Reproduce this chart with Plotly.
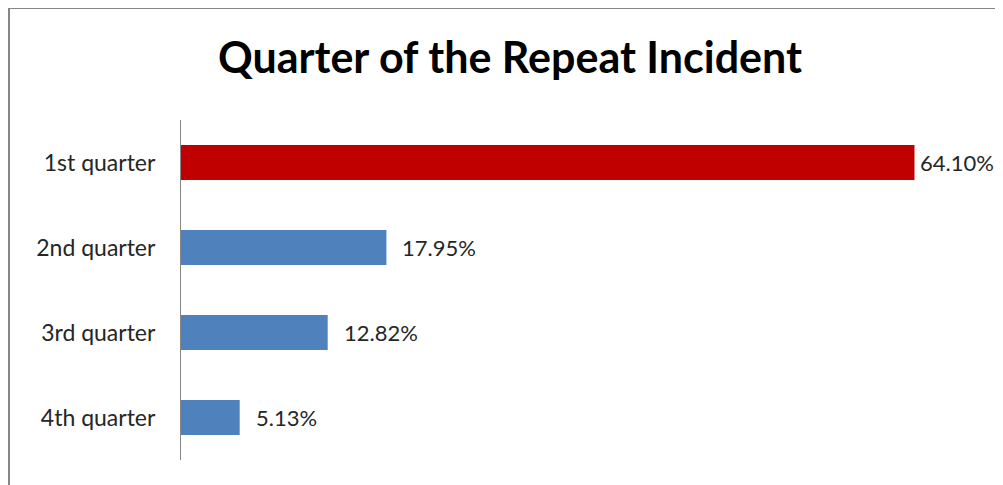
import plotly.graph_objects as go

categories = ["1st quarter", "2nd quarter", "3rd quarter", "4th quarter"]
values = [64.10, 17.95, 12.82, 5.13]
labels = ["64.10%", "17.95%", "12.82%", "5.13%"]
colors = ["#C00000", "#4F81BD", "#4F81BD", "#4F81BD"]
label_shift = [4, 14, 14, 14]

W, H = 1003, 485
OFF = 8  # page body margin
L, R, T, B = 181 - OFF, 982 - OFF, 120 - OFF, 460 - OFF

fig = go.Figure(go.Bar(
    x=values, y=categories, orientation="h",
    marker=dict(color=colors, line=dict(width=0)),
    width=0.41,
    cliponaxis=False,
))

for v, c, t, s in zip(values, categories, labels, label_shift):
    fig.add_annotation(x=v, y=c, text=t, showarrow=False, xanchor="left",
                       yanchor="middle", xshift=s,
                       font=dict(family="Lato", size=22, color="#262626"))

def px_x(x):
    return (x - OFF - L) / (R - L)

def px_y(y):
    return (B - (y - OFF)) / (B - T)

fig.update_layout(
    width=W, height=H,
    margin=dict(l=L, r=W - R, t=T, b=H - B, pad=0),
    paper_bgcolor="white", plot_bgcolor="white",
    showlegend=False,
    title=dict(text="<b>Quarter of the Repeat Incident</b>",
               x=(510 - OFF) / W, xanchor="center", y=1 - (58 - OFF) / H, yanchor="middle",
               font=dict(family="Lato", size=43, color="black")),
    xaxis=dict(range=[0, 70], visible=False, showgrid=False, zeroline=False),
    yaxis=dict(autorange="reversed", showline=True, linecolor="#868686", linewidth=1,
               showgrid=False, ticks="", ticklabelstandoff=20,
               tickfont=dict(family="Lato", size=23, color="#262626")),
    shapes=[
        dict(type="line", xref="paper", yref="paper", x0=px_x(9), x1=px_x(W + 20),
             y0=px_y(8), y1=px_y(8), line=dict(color="#868686", width=2)),
        dict(type="line", xref="paper", yref="paper", x0=px_x(9), x1=px_x(9),
             y0=px_y(8), y1=px_y(H + 20), line=dict(color="#868686", width=2)),
    ],
)

fig.write_html("out.html")
